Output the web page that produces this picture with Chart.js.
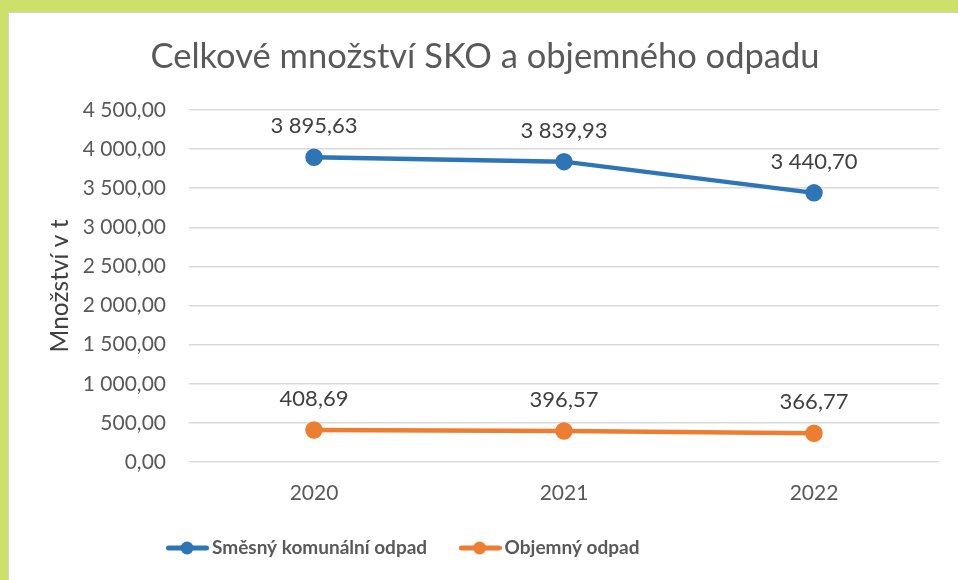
<!DOCTYPE html>
<html>
<head>
<meta charset="utf-8">
<script src="https://cdn.jsdelivr.net/npm/chart.js@4"></script>
<style>
  html, body { margin: 0; padding: 0; overflow: hidden; }
  body { background: #cde06a; width: 958px; height: 580px; position: relative; }
  #wrap {
    position: absolute; left: 8px; top: 12px;
    width: 949px; height: 600px;
    background: #fff;
    border-top: 1px solid #d4d4d4; border-left: 1px solid #d4d4d4;
  }
</style>
</head>
<body>
<div id="wrap"><canvas id="myChart"></canvas></div>
<script>
// data
const years = ['2020', '2021', '2022'];
const smesny = [3895.63, 3839.93, 3440.70];
const objemny = [408.69, 396.57, 366.77];
const seriesNames = ['Směsný komunální odpad', 'Objemný odpad'];
const blue = '#2e75b6';
const orange = '#ed7d31';
const textColor = '#595959';
const fontFamily = 'Lato, "Liberation Sans", sans-serif';

// 4500 -> "4 500,00"
function fmt(v) {
    const parts = v.toFixed(2).split('.');
    parts[0] = parts[0].replace(/\B(?=(\d{3})+(?!\d))/g, ' ');
    return parts.join(',');
}

// legend symbol: line with a dot in the middle
function legendSymbol(color) {
    const c = document.createElement('canvas');
    c.width = 43;
    c.height = 14;
    const ctx = c.getContext('2d');
    ctx.strokeStyle = color;
    ctx.lineWidth = 5;
    ctx.lineCap = 'round';
    ctx.beginPath();
    ctx.moveTo(2.5, 7);
    ctx.lineTo(40.5, 7);
    ctx.stroke();
    ctx.fillStyle = color;
    ctx.beginPath();
    ctx.arc(21, 7, 6.5, 0, Math.PI * 2);
    ctx.fill();
    return c;
}

// value labels above points
const valueLabels = {
    id: 'valueLabels',
    afterDatasetsDraw(chart) {
        const ctx = chart.ctx;
        ctx.save();
        ctx.font = '22px ' + fontFamily;
        ctx.fillStyle = '#404040';
        ctx.textAlign = 'center';
        ctx.textBaseline = 'middle';
        chart.data.datasets.forEach((ds, i) => {
            chart.getDatasetMeta(i).data.forEach((pt, j) => {
                ctx.fillText(fmt(ds.data[j]), pt.x, pt.y - 31);
            });
        });
        ctx.restore();
    }
};

// title sits a bit right, legend a bit left in the original
const shiftBoxes = {
    id: 'shiftBoxes',
    afterLayout(chart) {
        chart.legend.left -= 68;
        chart.legend.right -= 68;
        chart.titleBlock.left += 11;
        chart.titleBlock.right += 11;
    }
};

const config = {
    type: 'line',
    data: {
        labels: years,
        datasets: [{
            label: seriesNames[0],
            data: smesny,
            borderColor: blue,
            backgroundColor: blue,
            borderWidth: 4.5,
            pointRadius: 6.5,
            pointHoverRadius: 6.5,
            legendImg: legendSymbol(blue)
        }, {
            label: seriesNames[1],
            data: objemny,
            borderColor: orange,
            backgroundColor: orange,
            borderWidth: 4.5,
            pointRadius: 6.5,
            pointHoverRadius: 6.5,
            legendImg: legendSymbol(orange)
        }]
    },
    options: {
        responsive: true,
        maintainAspectRatio: false,
        animation: false,
        layout: { padding: { left: 0, right: 19, top: 0, bottom: 45.5 } },
        plugins: {
            title: {
                display: true,
                text: 'Celkové množství SKO a objemného odpadu',
                color: textColor,
                font: { family: fontFamily, size: 34.5, weight: 'normal' },
                padding: { top: 23.3, bottom: 32.3 }
            },
            legend: {
                position: 'bottom',
                labels: {
                    usePointStyle: true,
                    pointStyleWidth: 30,
                    padding: 38,
                    color: textColor,
                    font: { family: fontFamily, size: 19, weight: 'bold' },
                    generateLabels(chart) {
                        return chart.data.datasets.map((ds, i) => ({
                            text: ds.label,
                            pointStyle: ds.legendImg,
                            fillStyle: ds.borderColor,
                            strokeStyle: ds.borderColor,
                            fontColor: textColor,
                            lineWidth: 0,
                            hidden: false,
                            datasetIndex: i
                        }));
                    }
                }
            },
            tooltip: { enabled: false }
        },
        scales: {
            x: {
                offset: true,
                grid: { display: false, drawTicks: false },
                border: { display: false },
                ticks: {
                    color: textColor,
                    padding: 18.4,
                    font: { family: fontFamily, size: 21 }
                },
                afterFit(scale) { scale.height = 38.5; }
            },
            y: {
                min: 0,
                max: 4500,
                grid: { color: '#d9d9d9', lineWidth: 1.5, drawTicks: false },
                border: { display: false },
                ticks: {
                    stepSize: 500,
                    color: textColor,
                    padding: 23,
                    font: { family: fontFamily, size: 21 },
                    callback: v => fmt(v)
                },
                title: {
                    display: true,
                    text: 'Množství v t',
                    color: '#404040',
                    font: { family: fontFamily, size: 24.5 },
                    padding: { top: 36.3, bottom: 0 }
                },
                afterFit(scale) { scale.width = 180; }
            }
        }
    },
    plugins: [valueLabels, shiftBoxes]
};

const myChart = new Chart(document.getElementById('myChart'), config);
</script>
</body>
</html>
